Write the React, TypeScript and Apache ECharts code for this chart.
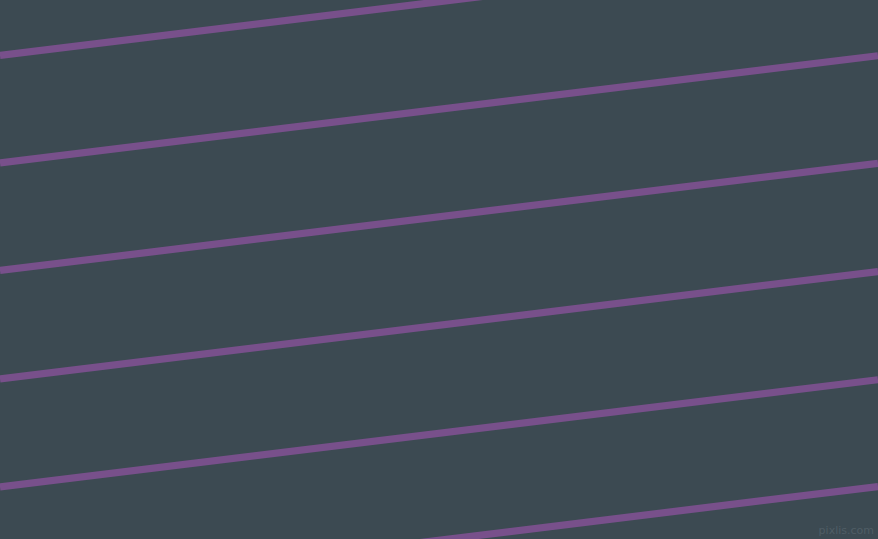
import { useEffect, useRef } from 'react';
import * as echarts from 'echarts';

// pixel-space axes: x from 0 to 878, y from 0 (top) to 539 (bottom)
const X_ENDS = [0, 878];
const LEFT_Y = [55.5, 163, 270.5, 379, 487, 594];
const RIGHT_Y = [-52, 55.7, 163.3, 271.5, 379.7, 486.5];

const BG = '#3c4a52';
const STRIPE = '#78508b';

export default function App() {
  const chartRef = useRef<HTMLDivElement>(null);

  useEffect(() => {
    document.body.style.margin = '0';
    if (!chartRef.current) return;
    const chart = echarts.init(chartRef.current, undefined, { renderer: 'svg' });

    const series: echarts.LineSeriesOption[] = LEFT_Y.map((y0, i) => ({
      type: 'line',
      data: [
        [X_ENDS[0], y0],
        [X_ENDS[1], RIGHT_Y[i]],
      ],
      symbol: 'none',
      lineStyle: { color: STRIPE, width: 7.2, cap: 'butt' },
      silent: true,
    }));

    chart.setOption({
      animation: false,
      backgroundColor: BG,
      grid: { left: 0, right: 0, top: 0, bottom: 0 },
      xAxis: { type: 'value', min: 0, max: 878, show: false },
      yAxis: { type: 'value', min: 0, max: 539, inverse: true, show: false },
      graphic: [
        {
          type: 'text',
          right: 4,
          bottom: 3,
          style: {
            text: 'pixlis.com',
            fill: '#4f5d65',
            font: '11px "DejaVu Sans", sans-serif',
          },
        },
      ],
      series,
    });

    return () => chart.dispose();
  }, []);

  return <div ref={chartRef} style={{ width: 878, height: 539 }} />;
}
